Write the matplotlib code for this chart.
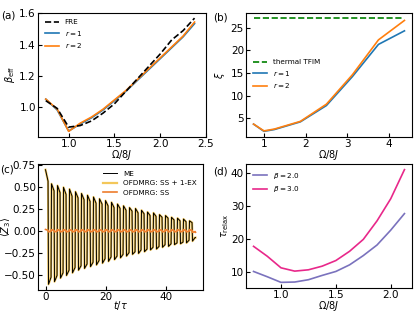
import numpy as np
import matplotlib
matplotlib.use("Agg")
import matplotlib.pyplot as plt

# ---------------- data ----------------
# (a)
omega_a = [0.75, 0.875, 1.0, 1.125, 1.25, 1.375, 1.5, 1.625, 1.75, 1.875, 2.0, 2.125, 2.25, 2.375]
beta_fre = [1.04, 0.99, 0.87, 0.88, 0.91, 0.96, 1.02, 1.10, 1.18, 1.26, 1.34, 1.43, 1.49, 1.57]
beta_r1 = [1.05, 0.98, 0.845, 0.89, 0.93, 0.98, 1.04, 1.10, 1.17, 1.24, 1.31, 1.38, 1.45, 1.535]
beta_r2 = [1.05, 0.985, 0.843, 0.895, 0.935, 0.985, 1.045, 1.105, 1.175, 1.245, 1.315, 1.385, 1.455, 1.545]

# (b)
omega_b = [0.75, 1.0, 1.25, 1.875, 2.5, 3.125, 3.75, 4.375]
xi_r1 = [3.7, 2.1, 2.5, 4.2, 7.8, 14.2, 21.3, 24.3]
xi_r2 = [3.7, 2.2, 2.6, 4.3, 8.1, 14.6, 22.3, 26.6]
xi_thermal = 27.1

# (c) per-cycle extrema (period 2 in t/tau)
cycle_t = [0, 2, 4, 6, 8, 10, 12, 14, 16, 18, 20, 22, 24, 26, 28, 30, 32, 34, 36, 38, 40, 42, 44, 46, 48]
pos_peak = [0.70, 0.54, 0.52, 0.50, 0.48, 0.45, 0.43, 0.41, 0.39, 0.37, 0.35, 0.33, 0.31,
            0.29, 0.27, 0.26, 0.24, 0.22, 0.21, 0.19, 0.18, 0.16, 0.15, 0.14, 0.12]
pos_end = [0.57, 0.46, 0.44, 0.42, 0.40, 0.38, 0.36, 0.34, 0.32, 0.31, 0.29, 0.27, 0.26,
           0.24, 0.23, 0.21, 0.20, 0.18, 0.17, 0.16, 0.15, 0.13, 0.12, 0.11, 0.10]
neg_peak = [-0.60, -0.57, -0.53, -0.50, -0.47, -0.44, -0.42, -0.40, -0.38, -0.36, -0.34, -0.32, -0.30,
            -0.28, -0.26, -0.25, -0.23, -0.21, -0.20, -0.18, -0.17, -0.15, -0.14, -0.13, -0.11]
neg_end = [-0.52, -0.50, -0.47, -0.44, -0.41, -0.39, -0.37, -0.35, -0.33, -0.31, -0.29, -0.28, -0.26,
           -0.24, -0.23, -0.21, -0.20, -0.18, -0.17, -0.15, -0.14, -0.13, -0.12, -0.10, -0.07]
ss_hi = [0.022, 0.02, 0.02, 0.02, 0.02, 0.02, 0.02, 0.02, 0.02, 0.02, 0.02, 0.02, 0.02,
         0.02, 0.02, 0.02, 0.02, 0.02, 0.02, 0.02, 0.02, 0.02, 0.02, 0.02, 0.02]
ss_lo = [-0.005, -0.005, -0.005, -0.005, -0.005, -0.005, -0.005, -0.005, -0.005, -0.005, -0.005, -0.005, -0.005,
         -0.005, -0.005, -0.005, -0.005, -0.005, -0.005, -0.005, -0.005, -0.005, -0.005, -0.005, -0.01]

# (d)
omega_d = [0.75, 0.875, 1.0, 1.125, 1.25, 1.375, 1.5, 1.625, 1.75, 1.875, 2.0, 2.125]
tau_b2 = [10.2, 8.6, 6.9, 7.0, 7.7, 9.0, 10.2, 12.2, 15.0, 18.2, 22.7, 27.7]
tau_b3 = [17.8, 14.8, 11.3, 10.3, 10.7, 11.8, 13.5, 16.3, 19.9, 25.5, 32.2, 41.0]

# ---------------- style ----------------
plt.rcParams.update({
    "font.size": 7,
    "xtick.direction": "in",
    "ytick.direction": "in",
    "xtick.labelsize": 7.5,
    "ytick.labelsize": 7.5,
    "axes.labelsize": 7,
    "legend.fontsize": 5.2,
    "axes.linewidth": 0.8,
})

W, H = 415, 312
fig = plt.figure(figsize=(W / 100, H / 100), dpi=100)

def add_ax(l, r, t, b):
    return fig.add_axes([l / W, 1 - b / H, (r - l) / W, (b - t) / H])

ax_a = add_ax(38, 206, 12.5, 137)
ax_b = add_ax(246, 412, 12.5, 137)
ax_c = add_ax(38, 203, 164, 290)
ax_d = add_ax(246, 412, 164, 288)

# (a)
ax_a.plot(omega_a, beta_fre, "k--", lw=1.2, label="FRE", zorder=3)
ax_a.plot(omega_a, beta_r1, color="C0", lw=1.2, label=r"$r=1$")
ax_a.plot(omega_a, beta_r2, color="C1", lw=1.2, label=r"$r=2$")
ax_a.set_xlim(0.665, 2.5)
ax_a.set_xticks([1.0, 1.5, 2.0, 2.5])
ax_a.set_yticks([1.0, 1.2, 1.4, 1.6])
ax_a.set_xlabel(r"$\Omega/8J$")
ax_a.set_ylabel(r"$\beta_{\rm eff}$")
ax_a.legend(loc="upper left", frameon=False)

# (b)
ax_b.plot([omega_b[0], omega_b[-1]], [xi_thermal, xi_thermal], "--", color="green", lw=1.2, label="thermal TFIM")
ax_b.plot(omega_b, xi_r1, color="C0", lw=1.2, label=r"$r=1$")
ax_b.plot(omega_b, xi_r2, color="C1", lw=1.2, label=r"$r=2$")
ax_b.set_xticks([1, 2, 3, 4])
ax_b.set_yticks([5, 10, 15, 20, 25])
ax_b.set_xlabel(r"$\Omega/8J$")
ax_b.set_ylabel(r"$\xi$")
ax_b.legend(loc="center left", frameon=False)

# (c)
tt, zz, ts, zs = [], [], [], []
for k, t0 in enumerate(cycle_t):
    tt += [t0, t0 + 0.85, t0 + 1.0, t0 + 1.85]
    zz += [pos_peak[k], pos_end[k], neg_peak[k], neg_end[k]]
    ts += [t0, t0 + 0.9, t0 + 1.0, t0 + 1.9]
    zs += [ss_hi[k], ss_hi[k] - 0.01, ss_lo[k], ss_lo[k] + 0.008]
tt.append(cycle_t[-1] + 2.0)
zz.append(neg_end[-1])
ts.append(cycle_t[-1] + 2.0)
zs.append(ss_lo[-1])
ax_c.plot(tt, zz, color="#f3c75a", lw=1.6, label="OFDMRG: SS + 1-EX")
ax_c.plot(tt, zz, color="black", lw=0.7, label="ME")
ax_c.plot(ts, zs, color="#ee7d2c", lw=1.2, label="OFDMRG: SS")
ax_c.set_xticks([0, 20, 40])
ax_c.set_yticks([-0.5, -0.25, 0.0, 0.25, 0.5, 0.75])
ax_c.set_xlabel(r"$t/\tau$")
ax_c.set_ylabel(r"$\langle Z_3\rangle$")
h, l = ax_c.get_legend_handles_labels()
ax_c.legend([h[1], h[0], h[2]], [l[1], l[0], l[2]], loc="upper right", frameon=False)

# (d)
ax_d.plot(omega_d, tau_b2, color="#7a72bd", lw=1.2, label=r"$\beta=2.0$")
ax_d.plot(omega_d, tau_b3, color="#e8288a", lw=1.2, label=r"$\beta=3.0$")
ax_d.set_xticks([1.0, 1.5, 2.0])
ax_d.set_yticks([10, 20, 30, 40])
ax_d.set_xlabel(r"$\Omega/8J$")
ax_d.set_ylabel(r"$\tau_{\rm relax}$")
ax_d.legend(loc="upper left", frameon=False)

for ax in (ax_a, ax_b, ax_c, ax_d):
    ax.tick_params(length=3, width=0.8, pad=1.5)

# label placement (axes coords)
ax_a.yaxis.set_label_coords(-0.125, 0.5)
ax_b.yaxis.set_label_coords(-0.115, 0.5)
ax_c.yaxis.set_label_coords(-0.15, 0.5)
ax_d.yaxis.set_label_coords(-0.09, 0.5)
ax_a.xaxis.set_label_coords(0.5, -0.088)
ax_b.xaxis.set_label_coords(0.5, -0.088)
ax_c.xaxis.set_label_coords(0.5, -0.072)
ax_d.xaxis.set_label_coords(0.5, -0.086)

fig.text(1 / W, 1 - 16 / H, "(a)", fontsize=7.5, va="center", ha="left")
fig.text(213 / W, 1 - 17 / H, "(b)", fontsize=7.5, va="center", ha="left")
fig.text(0 / W, 1 - 170 / H, "(c)", fontsize=7.5, va="center", ha="left")
fig.text(213 / W, 1 - 171 / H, "(d)", fontsize=7.5, va="center", ha="left")

fig.savefig("out.png", dpi=100)
